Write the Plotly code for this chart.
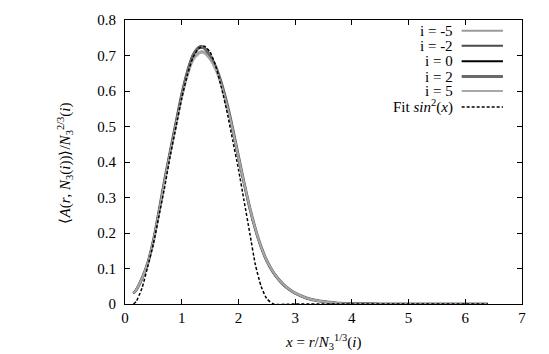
import plotly.graph_objects as go

# ---- data ----
x_vals = [0.15, 0.2, 0.3, 0.4, 0.5, 0.6, 0.7, 0.8, 0.9, 1.0, 1.1, 1.2, 1.3, 1.35, 1.4,
          1.5, 1.6, 1.7, 1.8, 1.9, 2.0, 2.1, 2.2, 2.3, 2.4, 2.5, 2.6, 2.7, 2.8, 2.9,
          3.0, 3.2, 3.4, 3.6, 3.8, 4.0, 4.5, 5.0, 5.5, 6.0, 6.4]

y_im5 = [0.030, 0.040, 0.072, 0.115, 0.177, 0.260, 0.347, 0.428, 0.506, 0.582, 0.645, 0.690, 0.708, 0.712, 0.709,
         0.690, 0.660, 0.616, 0.558, 0.490, 0.415, 0.341, 0.271, 0.211, 0.161, 0.122, 0.093, 0.071, 0.054, 0.041,
         0.031, 0.017, 0.009, 0.005, 0.002, 0.001, 0.0, 0.0, 0.0, 0.0, 0.0]
y_im2 = [0.030, 0.040, 0.072, 0.115, 0.178, 0.261, 0.349, 0.431, 0.510, 0.588, 0.653, 0.699, 0.720, 0.722, 0.719,
         0.697, 0.666, 0.620, 0.561, 0.491, 0.415, 0.340, 0.270, 0.210, 0.160, 0.121, 0.092, 0.070, 0.053, 0.040,
         0.030, 0.016, 0.009, 0.005, 0.002, 0.001, 0.0, 0.0, 0.0, 0.0, 0.0]
y_i0 = [0.030, 0.040, 0.072, 0.115, 0.178, 0.262, 0.350, 0.432, 0.512, 0.590, 0.655, 0.702, 0.724, 0.726, 0.722,
        0.700, 0.668, 0.622, 0.562, 0.492, 0.415, 0.340, 0.270, 0.210, 0.160, 0.121, 0.092, 0.070, 0.053, 0.040,
        0.030, 0.016, 0.009, 0.005, 0.002, 0.001, 0.0, 0.0, 0.0, 0.0, 0.0]
y_i2 = [0.030, 0.040, 0.072, 0.115, 0.178, 0.262, 0.350, 0.431, 0.511, 0.589, 0.654, 0.701, 0.722, 0.724, 0.721,
        0.699, 0.668, 0.622, 0.563, 0.493, 0.416, 0.341, 0.271, 0.211, 0.161, 0.122, 0.093, 0.071, 0.054, 0.041,
        0.031, 0.017, 0.009, 0.005, 0.002, 0.001, 0.0, 0.0, 0.0, 0.0, 0.0]
y_i5 = [0.030, 0.040, 0.072, 0.114, 0.176, 0.258, 0.345, 0.426, 0.503, 0.579, 0.641, 0.686, 0.704, 0.708, 0.706,
        0.688, 0.659, 0.615, 0.557, 0.489, 0.414, 0.341, 0.271, 0.211, 0.161, 0.122, 0.093, 0.071, 0.054, 0.041,
        0.031, 0.017, 0.009, 0.005, 0.002, 0.001, 0.0, 0.0, 0.0, 0.0, 0.0]

fit_x = [0.15, 0.2, 0.3, 0.4, 0.5, 0.6, 0.7, 0.8, 0.9, 1.0, 1.1, 1.2, 1.3, 1.4, 1.5,
         1.6, 1.7, 1.8, 1.9, 2.0, 2.1, 2.2, 2.3, 2.4, 2.5, 2.62, 3.0, 4.0, 5.0, 6.0, 6.4]
fit_y = [0.0, 0.008, 0.045, 0.105, 0.170, 0.250, 0.330, 0.420, 0.500, 0.580, 0.645, 0.695, 0.720, 0.726, 0.710,
         0.670, 0.610, 0.540, 0.460, 0.380, 0.290, 0.200, 0.110, 0.050, 0.015, 0.0, 0.0, 0.0, 0.0, 0.0, 0.0]

series_names = ["i = -5", "i = -2", "i = 0", "i = 2", "i = 5"]
series_vals = [y_im5, y_im2, y_i0, y_i2, y_i5]
series_colors = ["#9a9a9a", "#4a4a4a", "#000000", "#6a6a6a", "#a8a8a8"]
series_widths = [2, 2, 2, 3, 2]
fit_name = "Fit <i>sin</i><sup>2</sup>(<i>x</i>)"

x_ticks = [0, 1, 2, 3, 4, 5, 6, 7]
y_ticks = [0, 0.1, 0.2, 0.3, 0.4, 0.5, 0.6, 0.7, 0.8]
y_tick_text = ["0", "0.1", "0.2", "0.3", "0.4", "0.5", "0.6", "0.7", "0.8"]

x_title = "<i>x</i> = <i>r</i>/<i>N</i><sub>3</sub><sup>1/3</sup>(<i>i</i>)"
y_title = "⟨<i>A</i>(<i>r</i>, <i>N</i><sub>3</sub>(<i>i</i>))⟩/<i>N</i><sub>3</sub><sup>2/3</sup>(<i>i</i>)"

FONT = "Liberation Serif"

fig = go.Figure()
for name, ys, col, w in zip(series_names, series_vals, series_colors, series_widths):
    fig.add_trace(go.Scatter(x=x_vals, y=ys, mode="lines", name=name,
                             line=dict(color=col, width=w, shape="spline", smoothing=0.8),
                             showlegend=False, hoverinfo="skip"))
fig.add_trace(go.Scatter(x=fit_x, y=fit_y, mode="lines", name="Fit",
                         line=dict(color="#000000", width=1.5, dash="3px,2px", shape="spline", smoothing=0.6),
                         showlegend=False, hoverinfo="skip"))

# gnuplot-style legend: text right-aligned, sample line on the right
leg_names = series_names + [fit_name]
leg_colors = series_colors + ["#000000"]
leg_widths = series_widths + [1.5]
leg_dash = ["solid"] * 5 + ["3px,2px"]
row_y = [0.962, 0.909, 0.855, 0.801, 0.750, 0.694]
shapes = []
annotations = []
for nm, col, w, d, yy in zip(leg_names, leg_colors, leg_widths, leg_dash, row_y):
    annotations.append(dict(xref="paper", yref="paper", x=0.831, y=yy, text=nm, showarrow=False,
                            xanchor="right", yanchor="middle", font=dict(family=FONT, size=15, color="#000")))
    shapes.append(dict(type="line", xref="paper", yref="paper", x0=0.848, x1=0.952, y0=yy, y1=yy,
                       line=dict(color=col, width=w, dash=d)))

# axis titles
annotations.append(dict(xref="paper", yref="paper", x=0.5, y=-0.135, text=x_title, showarrow=False,
                        xanchor="center", yanchor="middle", font=dict(family=FONT, size=15, color="#000")))
annotations.append(dict(xref="paper", yref="paper", x=-0.152, y=0.497, text=y_title, showarrow=False,
                        textangle=-90, xanchor="center", yanchor="middle",
                        font=dict(family=FONT, size=15, color="#000")))

fig.update_layout(
    width=549, height=354,
    margin=dict(l=125, r=27, t=20, b=50, autoexpand=False),
    paper_bgcolor="white", plot_bgcolor="white",
    font=dict(family=FONT, size=15, color="#000"),
    shapes=shapes, annotations=annotations,
)
fig.update_xaxes(range=[0, 7], tickvals=x_ticks, ticks="inside", ticklen=5, tickcolor="#000",
                 showline=True, linecolor="#000", linewidth=1, mirror="ticks", showgrid=False, zeroline=False,
                 tickfont=dict(family=FONT, size=15), automargin=False)
fig.update_yaxes(range=[0, 0.8], tickvals=y_ticks, ticktext=y_tick_text, ticks="inside", ticklen=5, tickcolor="#000",
                 showline=True, linecolor="#000", linewidth=1, mirror="ticks", showgrid=False, zeroline=False,
                 tickfont=dict(family=FONT, size=15), automargin=False, ticklabelstandoff=5)

fig.write_html("out.html", config={"displayModeBar": False},
               post_script="document.body.style.margin='0px';document.body.style.padding='0px';")
